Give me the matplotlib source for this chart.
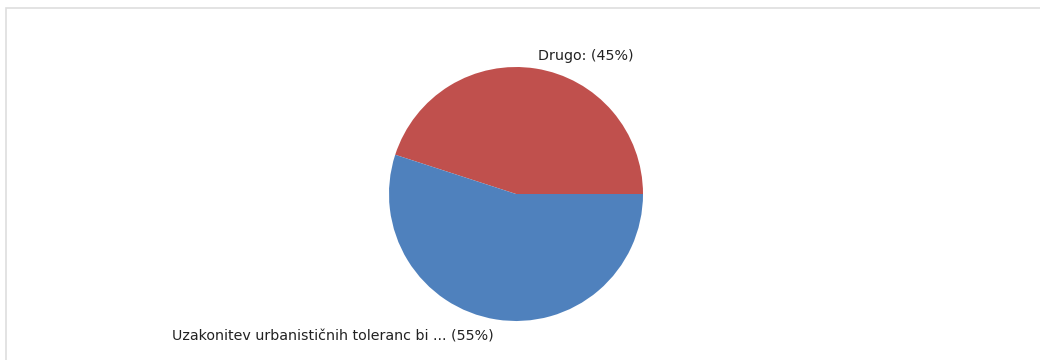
import matplotlib
matplotlib.use("Agg")
import matplotlib.pyplot as plt
from matplotlib.patches import Rectangle

labels = ["Drugo: (45%)", "Uzakonitev urbanističnih toleranc bi ... (55%)"]
values = [45, 55]
colors = ["#C0504D", "#4F81BD"]

W, H = 1040, 360
fig = plt.figure(figsize=(W / 100, H / 100), dpi=100)
fig.patch.set_facecolor("white")

# light frame
fig.add_artist(Rectangle((6 / W, -0.1), 1.2, (H - 8) / H + 0.1, transform=fig.transFigure,
                         fill=False, edgecolor="#dedede", linewidth=1.2))

cx, cy, r = 516, 194, 127
ax = fig.add_axes([(cx - r) / W, (H - cy - r) / H, 2 * r / W, 2 * r / H])
wedges, texts = ax.pie(values, labels=labels, colors=colors, startangle=0, counterclock=True,
                       labeldistance=1.1, radius=1.0,
                       textprops=dict(fontsize=10.3, color="#222222", family="DejaVu Sans"))
# nudge bottom label slightly lower, as in the reference
x1, y1 = texts[1].get_position()
texts[1].set_position((x1, y1 - 0.035))
ax.set_xlim(-1, 1)
ax.set_ylim(-1, 1)
ax.set_aspect("equal")
ax.axis("off")

fig.savefig("out.png", dpi=100, facecolor="white")
